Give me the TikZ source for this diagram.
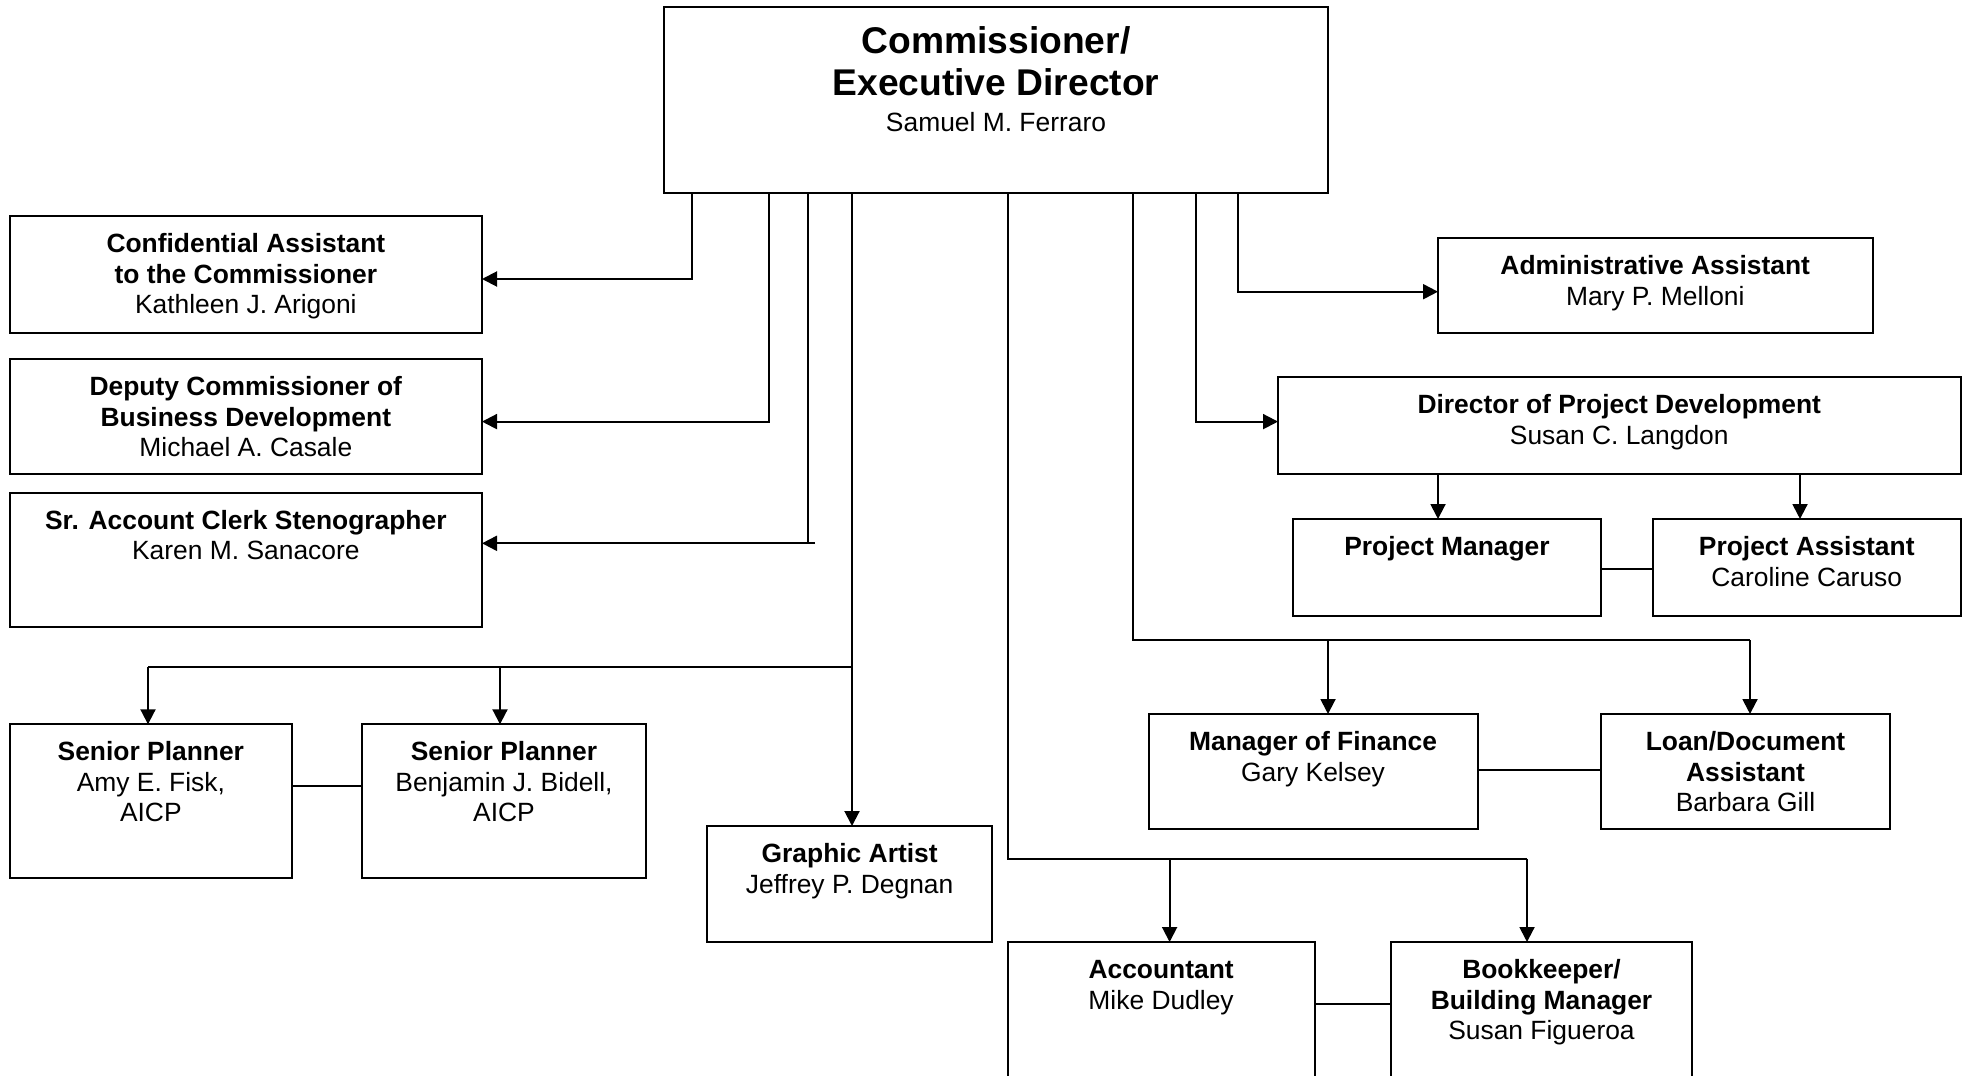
\documentclass[tikz,border=0pt]{standalone}
\usepackage{fontspec}
\setmainfont{Liberation Sans}
\usetikzlibrary{arrows.meta}
\tikzset{
  obox/.style={draw=black, line width=1pt, inner sep=0pt, outer sep=0pt, rectangle},
  otxt/.style={align=center, inner sep=0pt, outer sep=0pt, font=\fontsize{13.2}{15.25}\selectfont, anchor=north},
  conn/.style={line width=1pt, draw=black},
  arr/.style={conn, -{Triangle[length=7.5pt,width=7.5pt]}},
}
\newcommand\mkbox[5]{%
  \pgfmathsetmacro\obw{(#4-#2)*0.5}%
  \pgfmathsetmacro\obh{(#5-#3)*0.5}%
  \node[obox, minimum width=\obw pt, minimum height=\obh pt] (#1) at ({(#2+#4)/2},{(#3+#5)/2}) {};}
\newcommand\mktxt[2]{\node[otxt] (#1-t) at ([yshift=-6.25pt]#1.north) {\rule{0pt}{12pt}#2};}
\begin{document}
\begin{tikzpicture}[x=0.5pt,y=-0.5pt]
\clip (0,0) rectangle (1962,1075);
\fill[white] (0,0) rectangle (1962,1075);

% boxes
\mkbox{comm}{664}{7.5}{1328}{193.3}
\mkbox{conf}{9.7}{216}{482}{332.5}
\mkbox{dep}{9.7}{359}{482}{474}
\mkbox{sr}{9.7}{492.7}{482}{626.5}
\mkbox{adm}{1438}{238.3}{1872.5}{332.5}
\mkbox{dir}{1278}{377}{1960.5}{473.5}
\mkbox{pm}{1293}{519}{1601}{615.7}
\mkbox{pa}{1653}{519}{1960.5}{615.7}
\mkbox{spa}{9.7}{724.3}{292}{878.3}
\mkbox{spb}{362}{724.3}{646}{878.3}
\mkbox{ga}{707}{826}{992.3}{941.5}
\mkbox{fin}{1148.5}{714}{1477.6}{829.3}
\mkbox{loan}{1601}{714}{1890}{829.3}
\mkbox{acc}{1007.7}{942}{1314.5}{1090}
\mkbox{bk}{1391}{942}{1692}{1090}

% texts
\node[otxt, font=\fontsize{18.6}{21.3}\selectfont\bfseries] (comm-t) at ([yshift=-5.85pt]comm.north) {\rule{0pt}{17pt}Commissioner/\\Executive Director};
\node[otxt, anchor=base] (comm-n) at (996,131.5) {Samuel M. Ferraro};
\mktxt{conf}{\textbf{Confidential Assistant}\\\textbf{to the Commissioner}\\Kathleen J. Arigoni}
\mktxt{dep}{\textbf{Deputy Commissioner of}\\\textbf{Business Development}\\Michael A. Casale}
\mktxt{sr}{\textbf{Sr. Account Clerk Stenographer}\\Karen M. Sanacore}
\mktxt{adm}{\textbf{Administrative Assistant}\\Mary P. Melloni}
\mktxt{dir}{\textbf{Director of Project Development}\\Susan C. Langdon}
\mktxt{pm}{\textbf{Project Manager}}
\mktxt{pa}{\textbf{Project Assistant}\\Caroline Caruso}
\mktxt{spa}{\textbf{Senior Planner}\\Amy E. Fisk,\\AICP}
\mktxt{spb}{\textbf{Senior Planner}\\Benjamin J. Bidell,\\AICP}
\mktxt{ga}{\textbf{Graphic Artist}\\Jeffrey P. Degnan}
\mktxt{fin}{\textbf{Manager of Finance}\\Gary Kelsey}
\mktxt{loan}{\textbf{Loan/Document}\\\textbf{Assistant}\\Barbara Gill}
\mktxt{acc}{\textbf{Accountant}\\Mike Dudley}
\mktxt{bk}{\textbf{Bookkeeper/}\\\textbf{Building Manager}\\Susan Figueroa}

% junction coordinates
\coordinate (j1) at (692,279);
\coordinate (j2) at (768.5,421.6);
\coordinate (j3) at (808.3,543.3);
\coordinate (j3e) at (815,543.3);
\coordinate (sA) at (852,666.7);
\coordinate (pA1) at (148,666.7);
\coordinate (pA2) at (500,666.7);
\coordinate (aA) at (1007.7,858.7);
\coordinate (aB) at (1169.6,858.7);
\coordinate (aC) at (1527,858.7);
\coordinate (fA) at (1132.7,640);
\coordinate (fB) at (1328,640);
\coordinate (fC) at (1750,640);
\coordinate (dA) at (1196.3,421.6);
\coordinate (mA) at (1238.3,291.7);
\coordinate (pmA) at (1438,500);
\coordinate (paA) at (1800,500);
\coordinate (l1) at (1627,569);
\coordinate (l2) at (327,785.7);
\coordinate (l3) at (1540,770);
\coordinate (l4) at (1350,1004);

% connectors from the commissioner
\draw[arr] (comm.south -| j1) -- (j1) -- (conf.east |- j1);
\draw[arr] (comm.south -| j2) -- (j2) -- (dep.east |- j2);
\draw[conn] (comm.south -| j3) -- (j3);
\draw[arr] (j3e) -- (sr.east |- j3);
\draw[arr] (comm.south -| sA) -- (ga.north -| sA);
\draw[conn] (sA) -- (pA1);
\draw[arr] (pA1) -- (spa.north -| pA1);
\draw[arr] (pA2) -- (spb.north -| pA2);
\draw[conn] (comm.south -| aA) -- (aA) -- (aC);
\draw[arr] (aB) -- (acc.north -| aB);
\draw[arr] (aC) -- (bk.north -| aC);
\draw[conn] (comm.south -| fA) -- (fA) -- (fC);
\draw[arr] (fB) -- (fin.north -| fB);
\draw[arr] (fC) -- (loan.north -| fC);
\draw[arr] (comm.south -| dA) -- (dA) -- (dir.west |- dA);
\draw[arr] (comm.south -| mA) -- (mA) -- (adm.west |- mA);
\draw[arr] (dir.south -| pmA) -- (pm.north -| pmA);
\draw[arr] (dir.south -| paA) -- (pa.north -| paA);

% peer links
\draw[conn] (pm.east |- l1) -- (pa.west |- l1);
\draw[conn] (spa.east |- l2) -- (spb.west |- l2);
\draw[conn] (fin.east |- l3) -- (loan.west |- l3);
\draw[conn] (acc.east |- l4) -- (bk.west |- l4);
\end{tikzpicture}
\end{document}
